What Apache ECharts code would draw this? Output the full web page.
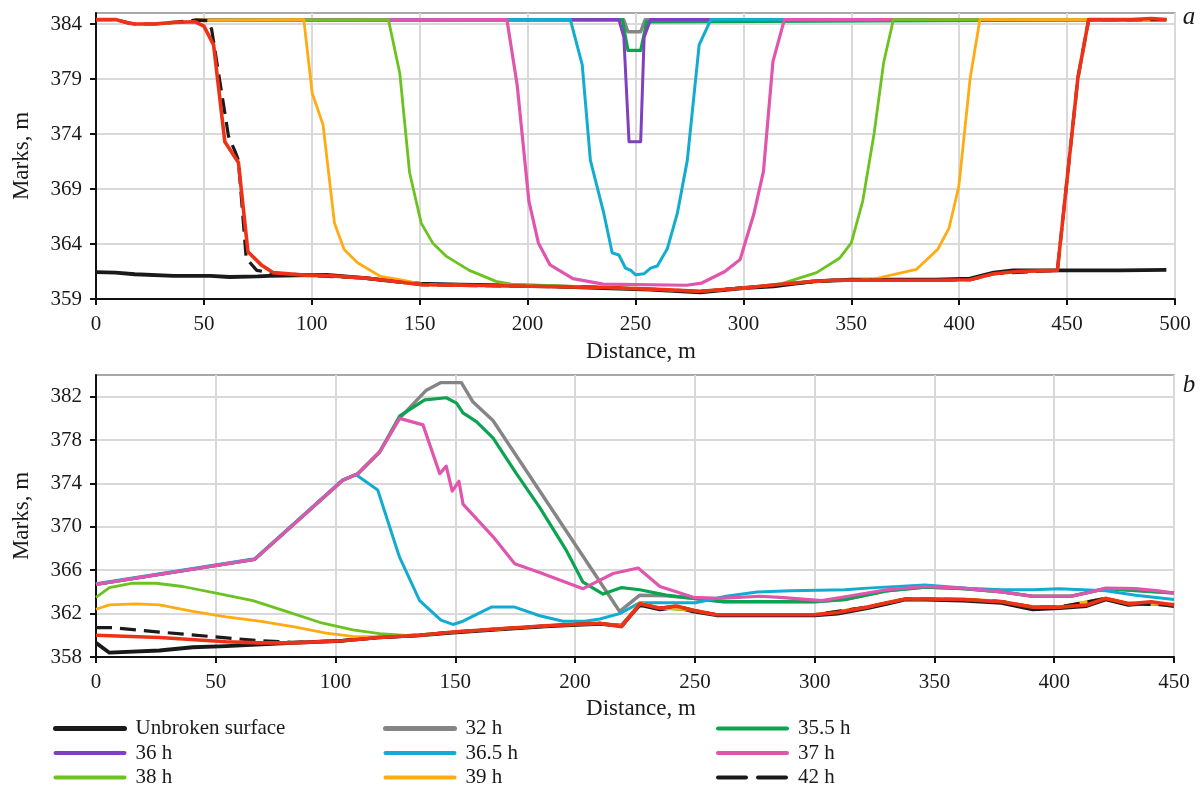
<!DOCTYPE html>
<html>
<head>
<meta charset="utf-8">
<script src="https://cdn.jsdelivr.net/npm/echarts@6/dist/echarts.min.js"></script>
<style>
html,body{margin:0;padding:0;background:#fff;}
#chart{width:1202px;height:786px;}
</style>
</head>
<body>
<div id="chart"></div>
<script>
// ---------- tick labels ----------
const aYTicks = [359, 364, 369, 374, 379, 384];
const bYTicks = [358, 362, 366, 370, 374, 378, 382];
const seriesNames = ['Unbroken surface', '32 h', '35.5 h', '36 h', '36.5 h', '37 h', '38 h', '39 h', '42 h'];
const lastName = 'final';

// ---------- panel a : [distance, mark] ----------
const aUnbroken = [[0,361.45],[9,361.4],[18,361.25],[36,361.1],[53,361.1],[62,361.0],[75,361.05],[80,361.1],[107,361.2],[125,360.9],[134,360.7],[150,360.4],[169,360.3],[205,360.2],[235,360.0],[257,359.85],[280,359.6],[300,360.0],[314,360.15],[332,360.6],[350,360.75],[389,360.75],[405,360.85],[416,361.4],[425,361.6],[445,361.6],[475,361.6],[496,361.65]];
const a32 = [[46,384.35],[244.5,384.4],[246.5,383.3],[252.4,383.3],[254.5,384.4],[496,384.4]];
const a355 = [[46,384.35],[243.9,384.4],[246.5,381.6],[252.4,381.6],[255.2,384.2],[496,384.4]];
const a36 = [[46,384.35],[242.3,384.4],[244.6,382.8],[247,373.3],[252.4,373.3],[254,382.8],[257,384.4],[496,384.4]];
const a365 = [[46,384.35],[219.8,384.4],[225.3,380.3],[229.1,371.6],[235.3,366.8],[239.2,363.2],[242.3,363.0],[245.4,361.8],[247.8,361.6],[250.1,361.2],[254,361.3],[257,361.8],[260.1,362.0],[264.8,363.6],[269.4,366.8],[274,371.6],[279.5,382.1],[284.9,384.4],[496,384.4]];
const a37 = [[46,384.35],[190.4,384.4],[195.2,378.4],[200.6,367.9],[205,364.1],[210.4,362.1],[221,360.85],[235,360.35],[273.6,360.25],[280.7,360.45],[291.4,361.5],[298.5,362.6],[304.8,366.7],[309.3,370.6],[313.7,380.6],[319,384.4],[496,384.4]];
const a38 = [[46,384.35],[135.5,384.4],[140.8,379.5],[145.3,370.5],[150.7,365.9],[156,364.1],[162.2,362.9],[173,361.6],[185.4,360.6],[192.5,360.35],[235,360.05],[257,359.9],[280,359.7],[300,360.0],[317.8,360.4],[333.9,361.4],[344.5,362.7],[350,364.1],[355.3,367.9],[360.6,374.1],[365,380.5],[369.5,384.4],[496,384.4]];
const a39 = [[46,384.35],[96.3,384.4],[100.2,377.7],[105.2,374.85],[110.5,365.9],[115,363.5],[121.2,362.3],[131.9,361.05],[142.6,360.7],[151,360.35],[187,360.2],[235,360.05],[257,359.9],[280,359.7],[300,360.0],[323,360.45],[341,360.7],[358.8,360.75],[380.2,361.7],[390,363.5],[395.3,365.45],[399.8,369.2],[405.1,379.1],[409.6,384.4],[496,384.4]];
const a42 = [[0,384.4],[9,384.4],[15,384.1],[18,384.0],[27,384.0],[36,384.15],[46,384.35],[52,384.3],[53.6,383.5],[61.4,373.8],[64.5,372.4],[66,371.6],[69.6,362.7],[74.5,361.6],[82,361.35],[98,361.15],[125,360.9],[151,360.3],[235,360.05],[280,359.7],[300,360.0],[341,360.7],[405,360.75],[416,361.3],[445.5,361.6],[455,379.1],[460,384.4],[496,384.4]];
const aFinal = [[0,384.4],[9,384.4],[15,384.1],[18,384.0],[27,384.0],[36,384.15],[46,384.2],[50,383.8],[54.5,382.1],[59.7,373.3],[66,371.4],[70.4,363.3],[76.6,362.1],[82,361.4],[98,361.15],[109,361.1],[125,360.9],[134,360.7],[151,360.3],[187,360.2],[235,360.05],[257,359.9],[280,359.7],[300,360.0],[323,360.45],[341,360.7],[389,360.7],[405,360.75],[416,361.3],[427,361.5],[445.5,361.6],[455,379.1],[460,384.4],[480,384.4],[489,384.5],[496,384.4]];

// ---------- panel b : [distance, mark] ----------
const bUnbroken = [[0,359.3],[5.6,358.4],[26.5,358.6],[40.4,358.9],[54.3,359.0],[82,359.3],[103,359.5],[118,359.8],[135,360.0],[149,360.25],[168.5,360.55],[189.4,360.85],[210.3,361.05],[219.4,360.9],[227,362.8],[235.4,362.4],[242.3,362.6],[249.3,362.2],[259,361.85],[300,361.85],[309.5,362.0],[322,362.5],[330,362.9],[338,363.3],[346,363.3],[362,363.2],[378,363.0],[391,362.4],[402,362.5],[413.5,362.7],[421.5,363.3],[431,362.8],[440.5,363.0],[450,362.7]];
const b32 = [[0,364.7],[66.2,367.0],[103,374.3],[109.3,374.9],[118.4,376.9],[126.7,380.0],[137.9,382.6],[144,383.3],[152.5,383.3],[157.4,381.5],[165.7,379.8],[218.6,362.2],[227,363.7],[238,363.65],[249.3,363.4],[261.5,363.1],[300,363.1],[312.7,363.3],[330,364.1],[346,364.45],[362,364.3],[378,364.0],[391,363.6],[407,363.6],[421.5,364.3],[450,363.9]];
const b355 = [[0,364.7],[66.2,367.0],[103,374.3],[109.3,374.9],[118.4,376.9],[126.7,380.2],[137.2,381.7],[146.2,381.9],[150.5,381.4],[153.2,380.5],[158.8,379.7],[165.7,378.2],[175.5,374.9],[185.2,371.8],[196.4,367.8],[203.3,364.9],[211.7,363.8],[219.4,364.4],[227,364.2],[238,363.7],[249.3,363.4],[261.5,363.1],[300,363.1],[312.7,363.3],[330,364.1],[346,364.45],[362,364.3],[378,364.0],[391,363.6],[407,363.6],[421.5,364.3],[450,363.9]];
const b365 = [[0,364.75],[66.2,367.05],[103,374.35],[108.6,374.8],[117.6,373.4],[126.7,367.2],[135.1,363.2],[144,361.4],[149,361.0],[153.2,361.3],[165,362.6],[174.8,362.6],[185.2,361.8],[195,361.3],[204,361.3],[210.3,361.5],[218.6,362.0],[227,363.0],[250.3,363.0],[263,363.6],[276,364.0],[290,364.1],[312.7,364.2],[322,364.35],[346,364.65],[363.7,364.35],[378,364.2],[391,364.2],[402,364.3],[421.5,364.1],[434,363.7],[450,363.3]];
const b37 = [[0,364.7],[66.2,367.0],[103,374.3],[109.3,374.9],[118.4,376.9],[126.7,380.0],[136.5,379.4],[143.5,374.9],[146.2,375.6],[148.7,373.3],[151.5,374.2],[153.2,372.1],[165.7,369.1],[174.8,366.6],[185.2,365.8],[203.3,364.3],[215.9,365.7],[226.3,366.2],[235.4,364.5],[249.3,363.5],[260.4,363.4],[277.2,363.6],[285.5,363.5],[303,363.2],[314,363.6],[330,364.2],[346,364.5],[362,364.35],[378,364.0],[391,363.6],[407,363.6],[413.5,363.9],[421.5,364.35],[434,364.3],[443.5,364.1],[450,363.9]];
const b38 = [[0,363.5],[5.6,364.4],[15.3,364.8],[25,364.8],[36.2,364.5],[50.1,363.9],[65.5,363.2],[79.4,362.2],[93.3,361.2],[107.2,360.5],[118.4,360.15],[129.5,360.0],[135,360.05],[149,360.3],[189.4,360.9],[210.3,361.1],[219.4,360.85],[227,362.9],[235.4,362.5],[249.3,362.3],[259,361.9],[300,361.9],[322,362.6],[338,363.35],[362,363.3],[378,363.1],[391,362.6],[402,362.6],[421.5,363.4],[431,362.9],[450,362.8]];
const b39 = [[0,362.4],[5.6,362.8],[16.7,362.9],[26.5,362.8],[40.4,362.2],[54.3,361.7],[68.2,361.3],[82.2,360.8],[96.1,360.2],[107.2,359.9],[118.4,359.85],[135,360.0],[149,360.3],[189.4,360.9],[210.3,361.1],[219.4,360.9],[227,363.0],[235.4,362.55],[249.3,362.35],[259,361.9],[300,361.9],[322,362.6],[338,363.4],[362,363.35],[378,363.15],[391,362.65],[402,362.6],[421.5,363.45],[431,363.0],[450,362.9]];
const b42 = [[0,360.7],[7,360.7],[26.5,360.3],[47.4,359.9],[68.2,359.5],[82,359.35],[103,359.5],[118.4,359.8],[135,360.0],[149,360.3],[168.5,360.6],[189.4,360.9],[210.3,361.1],[219.4,360.8],[227,362.9],[235.4,362.5],[242.3,362.7],[249.3,362.3],[259,361.9],[300,361.9],[322,362.6],[338,363.35],[362,363.3],[378,363.1],[391,362.6],[402,362.6],[421.5,363.4],[431,362.9],[450,362.8]];
const bFinal = [[0,360.0],[26.5,359.8],[54.3,359.4],[68.2,359.3],[82.2,359.3],[103,359.5],[118.4,359.8],[135,360.0],[149,360.3],[168.5,360.6],[189.4,360.9],[210.3,361.1],[219.4,360.8],[227,362.9],[235.4,362.5],[242.3,362.7],[249.3,362.3],[259,361.9],[274,361.9],[300,361.9],[309.5,362.1],[322,362.6],[330,363.0],[338,363.35],[346,363.35],[362,363.3],[378,363.1],[391,362.6],[402,362.6],[413.5,362.8],[421.5,363.4],[431,362.9],[440.5,363.1],[450,362.8]];

// ---------- styling ----------
const FONT = "'Liberation Serif', 'Times New Roman', serif";
const styles = {
  'Unbroken surface': {color:'#1a1a1a', width:3.8, lw:5},
  '32 h':   {color:'#858585', width:3.4, lw:5},
  '35.5 h': {color:'#0aa34f', width:3.2, lw:4},
  '36 h':   {color:'#7f3fbf', width:3.0, lw:4},
  '36.5 h': {color:'#12acd0', width:3.0, lw:4},
  '37 h':   {color:'#e055ad', width:3.2, lw:4},
  '38 h':   {color:'#6cc320', width:2.8, lw:4},
  '39 h':   {color:'#ffab12', width:2.8, lw:4},
  '42 h':   {color:'#1a1a1a', width:3.2, lw:4, type:[16,8], ltype:[28,12]},
  'final':  {color:'#ee3218', width:3.6, lw:4}
};
const panelA = {'Unbroken surface':aUnbroken,'32 h':a32,'35.5 h':a355,'36 h':a36,'36.5 h':a365,'37 h':a37,'38 h':a38,'39 h':a39,'42 h':a42,'final':aFinal};
const panelB = {'Unbroken surface':bUnbroken,'32 h':b32,'35.5 h':b355,'36.5 h':b365,'37 h':b37,'38 h':b38,'39 h':b39,'42 h':b42,'final':bFinal};

const series = [];
function addSeries(panel, idx) {
  seriesNames.concat([lastName]).forEach(function(n){
    if (!panel[n]) return;
    const s = styles[n];
    series.push({
      name: n, type:'line', xAxisIndex: idx, yAxisIndex: idx,
      data: panel[n], symbol:'none', animation:false, silent:true,
      lineStyle:{color:s.color, width:s.width, type: s.type || 'solid', cap:'butt', join:'round'},
      itemStyle:{color:s.color}
    });
  });
}
addSeries(panelA, 0);
addSeries(panelB, 1);

function xAxis(idx, max) {
  return {
    type:'value', gridIndex: idx, min:0, max:max, interval:50,
    axisLine:{show:true, onZero:false, lineStyle:{color:'#111', width:2}},
    axisTick:{show:true, inside:false, length:6, lineStyle:{color:'#111', width:2}},
    axisLabel:{color:'#1a1a1a', fontSize:21, fontFamily:FONT, margin:15},
    splitLine:{show:true, lineStyle:{color:'#d9d9d9', width:2}}
  };
}
function yAxis(idx, min, max, ticks) {
  return {
    type:'value', gridIndex: idx, min:min, max:max,
    axisLine:{show:true, onZero:false, lineStyle:{color:'#111', width:2}},
    axisTick:{show:true, inside:false, length:6, customValues: ticks, lineStyle:{color:'#111', width:2}},
    axisLabel:{color:'#1a1a1a', fontSize:21, fontFamily:FONT, margin:14, customValues: ticks},
    splitLine:{show:true, lineStyle:{color:'#d9d9d9', width:2}}
  };
}
function legend(left, names) {
  return {
    orient:'vertical', left:left, top:718, height:80, padding:0,
    itemWidth:69, itemHeight:14, itemGap:3.5,
    selectedMode:false,
    data: names.map(function(n){
      const s = styles[n];
      return {name:n, lineStyle:{width:s.lw, color:s.color, type:s.ltype || 'solid', cap:'round'}};
    }),
    itemStyle:{opacity:0},
    textStyle:{fontSize:21, fontFamily:FONT, color:'#1a1a1a', padding:[0,0,0,6]}
  };
}
function label(text, x, y, size, rot, italic) {
  return {
    type:'text', x:x, y:y, rotation: rot || 0, silent:true,
    style:{text:text, font:(italic?'italic ':'') + size + 'px ' + FONT, fill:'#1a1a1a', align:'center', verticalAlign:'middle'}
  };
}

const chart = echarts.init(document.getElementById('chart'), null, {renderer:'canvas'});
chart.setOption({
  backgroundColor:'#fff',
  animation:false,
  grid:[
    {left:96, top:13, width:1079, height:286, show:true, borderColor:'#8c8c8c', borderWidth:1.5, backgroundColor:'transparent'},
    {left:96, top:375, width:1078, height:282, show:true, borderColor:'#8c8c8c', borderWidth:1.5, backgroundColor:'transparent'}
  ],
  xAxis:[xAxis(0, 500), xAxis(1, 450)],
  yAxis:[yAxis(0, 359, 385, aYTicks), yAxis(1, 358, 384, bYTicks)],
  legend:[
    legend(53, ['Unbroken surface','36 h','38 h']),
    legend(383, ['32 h','36.5 h','39 h']),
    legend(716, ['35.5 h','37 h','42 h'])
  ],
  graphic:[
    label('Marks, m', 22, 156, 23, Math.PI/2),
    label('Marks, m', 22, 516, 23, Math.PI/2),
    label('Distance, m', 641, 352, 23),
    label('Distance, m', 641, 709, 23),
    label('a', 1189, 17, 25, 0, true),
    label('b', 1189, 385, 25, 0, true)
  ],
  series: series
});
</script>
</body>
</html>
